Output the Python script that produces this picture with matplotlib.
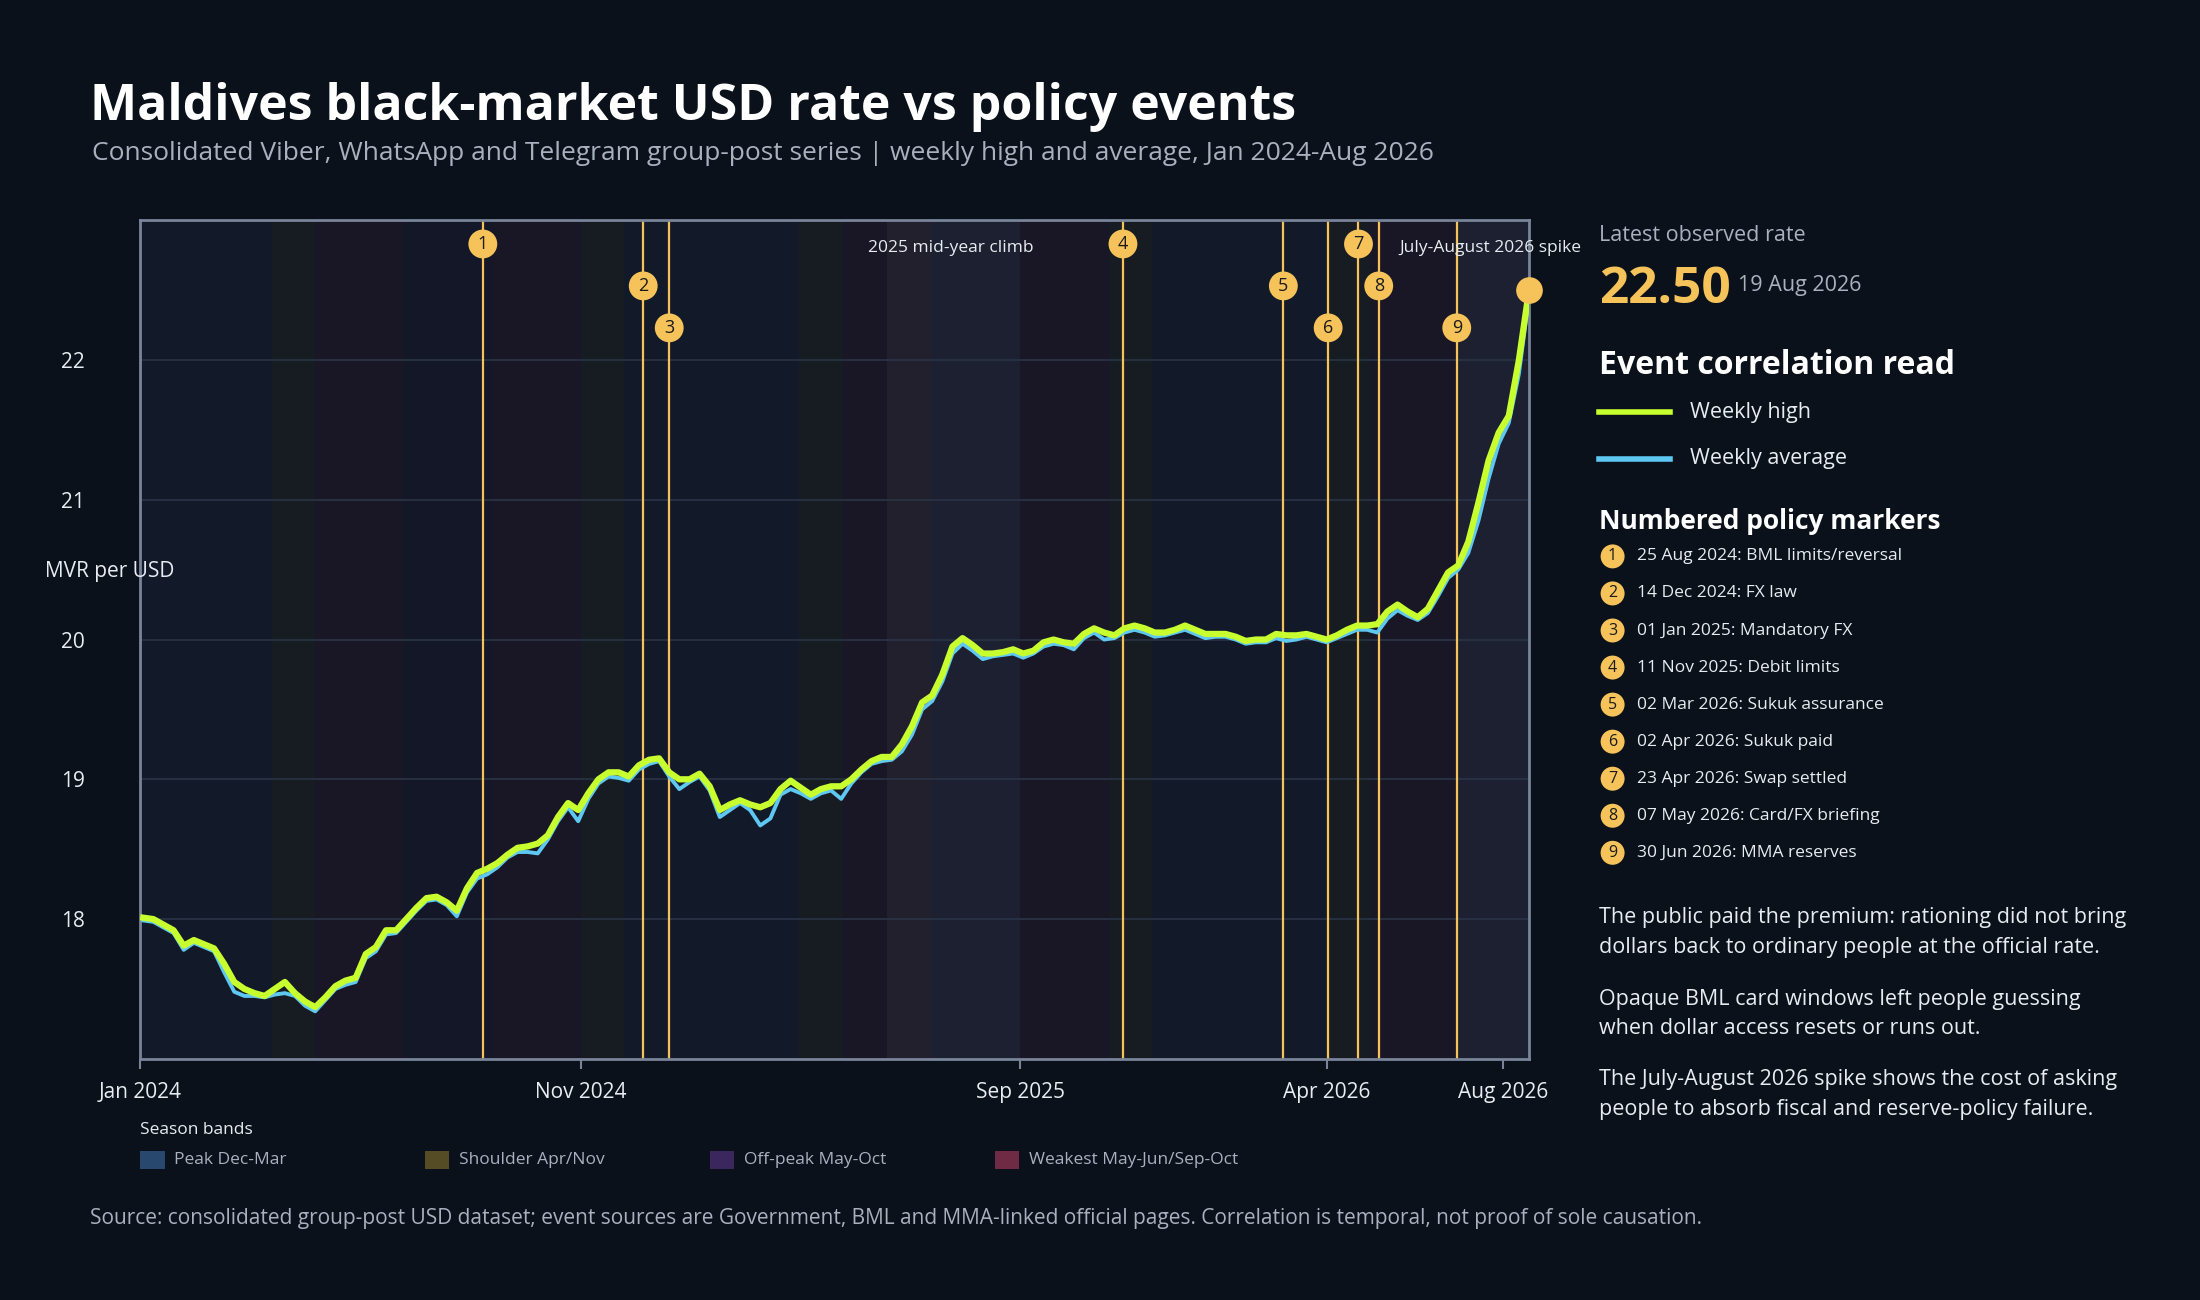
import matplotlib
matplotlib.use("Agg")
import matplotlib.pyplot as plt
import matplotlib.dates as mdates
from matplotlib.lines import Line2D
from matplotlib.patches import Rectangle
import pandas as pd

plt.rcParams['font.family'] = ['Open Sans', 'DejaVu Sans']

weeks = pd.date_range(end='2026-08-19', freq='7D', periods=138)
weekly_high = [18.01, 18.00, 17.96, 17.92, 17.81, 17.85, 17.82, 17.79, 17.68, 17.55,
               17.50, 17.47, 17.45, 17.50, 17.55, 17.47, 17.41, 17.37, 17.44, 17.52,
               17.56, 17.58, 17.75, 17.80, 17.92, 17.92, 18.00, 18.08, 18.15, 18.16,
               18.12, 18.06, 18.22, 18.33, 18.36, 18.40, 18.46, 18.51, 18.52, 18.54,
               18.60, 18.73, 18.83, 18.78, 18.90, 19.00, 19.05, 19.05, 19.02, 19.10,
               19.14, 19.15, 19.05, 19.00, 19.00, 19.04, 18.95, 18.78, 18.82, 18.85,
               18.82, 18.80, 18.83, 18.93, 18.99, 18.94, 18.89, 18.93, 18.95, 18.95,
               19.00, 19.07, 19.13, 19.16, 19.16, 19.25, 19.38, 19.55, 19.60, 19.75,
               19.95, 20.01, 19.96, 19.90, 19.90, 19.91, 19.93, 19.90, 19.92, 19.98,
               20.00, 19.98, 19.97, 20.04, 20.08, 20.05, 20.03, 20.08, 20.10, 20.08,
               20.05, 20.05, 20.07, 20.10, 20.07, 20.04, 20.04, 20.04, 20.02, 19.99,
               20.00, 20.00, 20.04, 20.03, 20.03, 20.04, 20.02, 20.00, 20.03, 20.07,
               20.10, 20.10, 20.11, 20.20, 20.25, 20.20, 20.16, 20.22, 20.35, 20.48,
               20.53, 20.70, 20.98, 21.28, 21.48, 21.60, 22.00, 22.50]
weekly_avg = [17.99, 17.98, 17.94, 17.90, 17.78, 17.83, 17.80, 17.77, 17.62, 17.48,
              17.45, 17.45, 17.44, 17.46, 17.47, 17.45, 17.38, 17.34, 17.42, 17.50,
              17.53, 17.55, 17.72, 17.77, 17.89, 17.90, 17.98, 18.06, 18.13, 18.14,
              18.10, 18.02, 18.19, 18.29, 18.32, 18.37, 18.44, 18.48, 18.48, 18.47,
              18.57, 18.70, 18.80, 18.70, 18.86, 18.97, 19.02, 19.01, 18.99, 19.07,
              19.11, 19.13, 19.02, 18.93, 18.98, 19.02, 18.92, 18.73, 18.78, 18.83,
              18.78, 18.67, 18.72, 18.89, 18.93, 18.90, 18.86, 18.90, 18.92, 18.86,
              18.97, 19.05, 19.11, 19.13, 19.14, 19.20, 19.32, 19.50, 19.56, 19.70,
              19.90, 19.97, 19.92, 19.86, 19.88, 19.89, 19.90, 19.87, 19.90, 19.95,
              19.97, 19.96, 19.93, 20.01, 20.05, 20.00, 20.01, 20.05, 20.07, 20.05,
              20.02, 20.03, 20.05, 20.07, 20.04, 20.01, 20.02, 20.02, 20.00, 19.97,
              19.98, 19.98, 20.01, 19.99, 20.00, 20.02, 20.00, 19.98, 20.01, 20.04,
              20.07, 20.07, 20.05, 20.15, 20.21, 20.17, 20.14, 20.19, 20.31, 20.44,
              20.50, 20.62, 20.85, 21.15, 21.40, 21.55, 21.90, 22.45]

event_dates = ['2024-08-25', '2024-12-14', '2025-01-01', '2025-11-11', '2026-03-02',
               '2026-04-02', '2026-04-23', '2026-05-07', '2026-06-30']
event_labels = ['25 Aug 2024: BML limits/reversal', '14 Dec 2024: FX law',
                '01 Jan 2025: Mandatory FX', '11 Nov 2025: Debit limits',
                '02 Mar 2026: Sukuk assurance', '02 Apr 2026: Sukuk paid',
                '23 Apr 2026: Swap settled', '07 May 2026: Card/FX briefing',
                '30 Jun 2026: MMA reserves']
event_rows = [0, 1, 2, 0, 1, 2, 0, 1, 2]
row_y = [22.83, 22.53, 22.23]

season_names = ['Peak Dec-Mar', 'Shoulder Apr/Nov', 'Off-peak May-Oct', 'Weakest May-Jun/Sep-Oct']
season_colors = ['#2d4f78', '#5e5226', '#3f2a66', '#7a2e48']
season_spans = [('2024-01-01', '2024-04-01', 0), ('2024-04-01', '2024-05-01', 1),
                ('2024-05-01', '2024-07-01', 3), ('2024-07-01', '2024-09-01', 2),
                ('2024-09-01', '2024-11-01', 3), ('2024-11-01', '2024-12-01', 1),
                ('2024-12-01', '2025-04-01', 0), ('2025-04-01', '2025-05-01', 1),
                ('2025-05-01', '2025-07-01', 3), ('2025-07-01', '2025-09-01', 2),
                ('2025-09-01', '2025-11-01', 3), ('2025-11-01', '2025-12-01', 1),
                ('2025-12-01', '2026-04-01', 0), ('2026-04-01', '2026-05-01', 1),
                ('2026-05-01', '2026-07-01', 3), ('2026-07-01', '2026-09-01', 2)]
highlights = [('2025-06-01', '2025-09-01', '2025 mid-year climb'),
              ('2026-07-01', '2026-08-26', 'July-August 2026 spike')]

BG = '#0b111a'
FACE = '#0f1522'
GOLD = '#f6c35a'
HIGH = '#c8ff2e'
AVG = '#5ec8f2'
TXT = '#e8ecf2'
SUB = '#a9b1bf'

fig = plt.figure(figsize=(22, 13), dpi=100, facecolor=BG)
ax = fig.add_axes([0.0638, 0.1855, 0.6312, 0.6451])
ax.set_facecolor(FACE)

for s, e, i in season_spans:
    ax.axvspan(pd.Timestamp(s), pd.Timestamp(e), color=season_colors[i], alpha=0.10, lw=0, zorder=0)
for s, e, lab in highlights:
    ax.axvspan(pd.Timestamp(s), pd.Timestamp(e), color='#ffffff', alpha=0.04, lw=0, zorder=0)

ax.grid(axis='y', color='#2a3446', lw=1.2, zorder=1)
ax.set_axisbelow(True)

ax.plot(weeks, weekly_avg, color=AVG, lw=2.8, zorder=3)
ax.plot(weeks, weekly_high, color=HIGH, lw=4.5, zorder=4)
ax.scatter([weeks[-1]], [weekly_high[-1]], s=330, color=GOLD, zorder=6, clip_on=False)

for i, (d, r) in enumerate(zip(event_dates, event_rows)):
    t = pd.Timestamp(d)
    ax.axvline(t, color=GOLD, lw=1.6, zorder=2)
    ax.text(t, row_y[r], str(i + 1), ha='center', va='center', fontsize=13, color='#1a1a1a',
            zorder=7, bbox=dict(boxstyle='circle,pad=0.3', fc=GOLD, ec='none'))

ax.text(pd.Timestamp('2025-07-15'), 22.8, highlights[0][2], ha='center', va='center',
        fontsize=12.5, color=TXT, zorder=7)
ax.text(pd.Timestamp('2026-07-23'), 22.8, highlights[1][2], ha='center', va='center',
        fontsize=12.5, color=TXT, zorder=7)

ax.set_xlim(pd.Timestamp('2024-01-01'), pd.Timestamp('2026-08-19'))
ax.set_ylim(17.0, 23.0)
ax.set_yticks([18, 19, 20, 21, 22])
ticks = [pd.Timestamp(x) for x in ['2024-01-01', '2024-11-01', '2025-09-01', '2026-04-01', '2026-08-01']]
ax.set_xticks(ticks)
ax.set_xticklabels(['Jan 2024', 'Nov 2024', 'Sep 2025', 'Apr 2026', 'Aug 2026'])
ax.tick_params(colors='#7a8499', labelcolor=TXT, labelsize=15, length=7, width=1.5, pad=10)
ax.tick_params(axis='y', length=0, pad=40)
for sp in ax.spines.values():
    sp.set_color('#7a8499')
    sp.set_linewidth(2)
fig.text(0.0205, 0.560, 'MVR per USD', fontsize=15, color=TXT, ha='left', va='center')

fig.text(0.041, 0.918, 'Maldives black-market USD rate vs policy events', fontsize=36,
         fontweight='bold', color='white', ha='left', va='center')
fig.text(0.042, 0.882, 'Consolidated Viber, WhatsApp and Telegram group-post series | weekly high and average, Jan 2024-Aug 2026',
         fontsize=19, color=SUB, ha='left', va='center')
fig.text(0.041, 0.063, 'Source: consolidated group-post USD dataset; event sources are Government, BML and MMA-linked official pages. Correlation is temporal, not proof of sole causation.',
         fontsize=15, color=SUB, ha='left', va='center')

fig.text(0.0638, 0.131, 'Season bands', fontsize=12.5, color=TXT, ha='left', va='center')
sx = [0.0638, 0.1932, 0.3227, 0.4522]
for x, n, c in zip(sx, season_names, season_colors):
    fig.patches.append(Rectangle((x, 0.101), 0.011, 0.014, transform=fig.transFigure,
                                 fc=c, ec='none', alpha=0.9))
    fig.text(x + 0.0155, 0.108, n, fontsize=12.5, color=SUB, ha='left', va='center')

rx = 0.727
fig.text(rx, 0.819, 'Latest observed rate', fontsize=15.5, color=SUB, ha='left', va='center')
fig.text(rx, 0.777, f'{weekly_high[-1]:.2f}', fontsize=37, fontweight='bold', color=GOLD,
         ha='left', va='center')
fig.text(0.790, 0.780, '19 Aug 2026', fontsize=15.5, color=SUB, ha='left', va='center')
fig.text(rx, 0.719, 'Event correlation read', fontsize=23, fontweight='bold', color='white',
         ha='left', va='center')
for y, c, lab in [(0.683, HIGH, 'Weekly high'), (0.647, AVG, 'Weekly average')]:
    fig.lines.append(Line2D([rx, rx + 0.032], [y, y], transform=fig.transFigure, color=c, lw=4))
    fig.text(rx + 0.041, y, lab, fontsize=15.5, color=TXT, ha='left', va='center')
fig.text(rx, 0.599, 'Numbered policy markers', fontsize=19, fontweight='bold', color='white',
         ha='left', va='center')
for i, lab in enumerate(event_labels):
    y = 0.572 - i * 0.0285
    fig.text(rx + 0.006, y, str(i + 1), fontsize=11.5, color='#1a1a1a', ha='center', va='center',
             bbox=dict(boxstyle='circle,pad=0.25', fc=GOLD, ec='none'))
    fig.text(rx + 0.017, y, lab, fontsize=12.5, color=TXT, ha='left', va='center')

paras = ['The public paid the premium: rationing did not bring\ndollars back to ordinary people at the official rate.',
         'Opaque BML card windows left people guessing\nwhen dollar access resets or runs out.',
         'The July-August 2026 spike shows the cost of asking\npeople to absorb fiscal and reserve-policy failure.']
for y, p in zip([0.283, 0.220, 0.158], paras):
    fig.text(rx, y, p, fontsize=15.5, color=TXT, ha='left', va='center', linespacing=1.55)

fig.savefig('out.png', dpi=100, facecolor=BG)
